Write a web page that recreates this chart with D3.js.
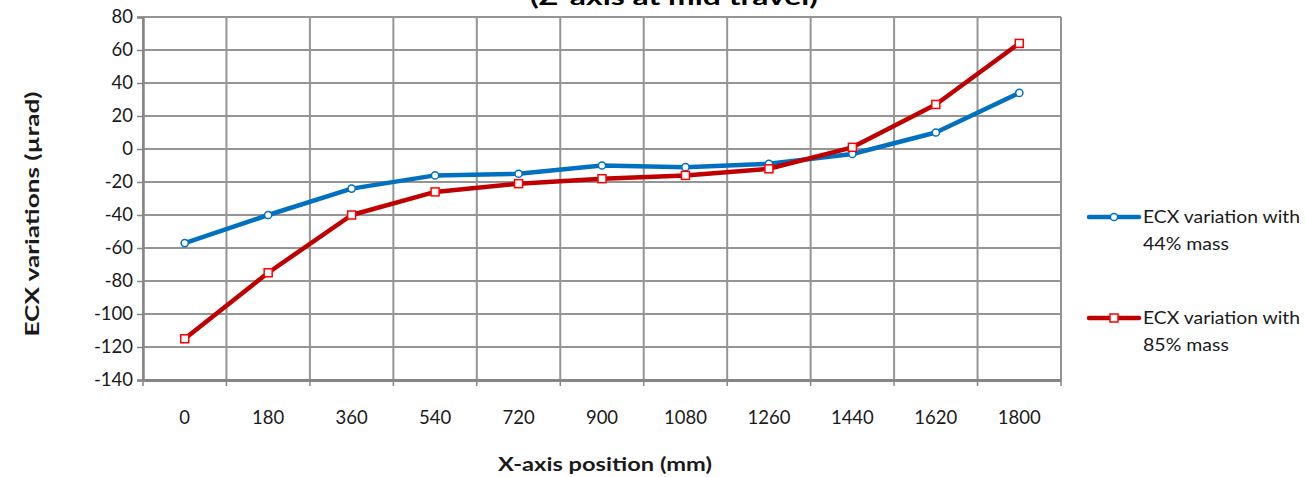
<!DOCTYPE html>
<html>
<head>
<meta charset="utf-8">
<script src="https://cdn.jsdelivr.net/npm/d3@7"></script>
<style>
  body { margin: 0; background: #fff; }
  svg { display: block; font-family: Lato, "Open Sans", sans-serif; }
</style>
</head>
<body>
<svg id="chart" width="1305" height="477"></svg>
<script>
// Chart data.
const positions = ['0', '180', '360', '540', '720', '900', '1080', '1260', '1440', '1620', '1800'];
const mass44 = [-57, -40, -24, -16, -15, -10, -11, -9, -3, 10, 34];
const mass85 = [-115, -75, -40, -26, -21, -18, -16, -12, 1, 27, 64];
const yTicks = [80, 60, 40, 20, 0, -20, -40, -60, -80, -100, -120, -140];
const seriesNames = ['ECX variation with|44% mass', 'ECX variation with|85% mass'];

const svg = d3.select('#chart');
const plotLeft = 143, plotRight = 1061, plotTop = 17, plotBottom = 380;

// Scales: band for categories, linear for the values.
let xScale = d3.scaleBand()
    .domain(positions)
    .range([plotLeft, plotRight]);

let yScale = d3.scaleLinear()
    .domain([-140, 80])
    .range([plotBottom, plotTop]);

// Title, only the bottom of its second line is visible in the frame.
svg.append('text')
    .attr('x', 674)
    .attr('y', 5)
    .attr('text-anchor', 'middle')
    .attr('font-size', 23)
    .attr('font-weight', 'bold')
    .attr('textLength', 288)
    .attr('lengthAdjust', 'spacingAndGlyphs')
    .text('(Z-axis at mid travel)');

// Gridlines.
let gGrid = svg.append('g').attr('id', 'g-grid');
gGrid.selectAll('line.h')
    .data(yTicks)
    .join('line')
    .attr('class', 'h')
    .attr('x1', plotLeft).attr('x2', plotRight)
    .attr('y1', d => yScale(d)).attr('y2', d => yScale(d))
    .attr('stroke', '#959595')
    .attr('stroke-width', 2);

let bounds = positions.map(p => xScale(p)).concat([plotRight]);
gGrid.selectAll('line.v')
    .data(bounds)
    .join('line')
    .attr('class', 'v')
    .attr('x1', d => d).attr('x2', d => d)
    .attr('y1', plotTop).attr('y2', plotBottom)
    .attr('stroke', '#959595')
    .attr('stroke-width', 2);

// Y axis, plain hyphen for negatives like the original.
let yAxis = d3.axisLeft(yScale)
    .tickValues(yTicks)
    .tickFormat(d => String(d))
    .tickSize(6)
    .tickPadding(4);
let gY = svg.append('g')
    .attr('transform', 'translate(' + plotLeft + ',0)')
    .call(yAxis);
gY.select('.domain').attr('stroke', '#868686').attr('stroke-width', 2.5);
gY.selectAll('.tick line').attr('stroke', '#868686').attr('stroke-width', 1.5);
gY.selectAll('.tick text')
    .attr('font-size', 18.5)
    .attr('font-family', 'Lato, sans-serif')
    .attr('fill', '#1a1a1a');

// X axis, ticks at category boundaries like Excel.
let xAxis = d3.axisBottom(xScale)
    .tickSize(0)
    .tickPadding(31);
let gX = svg.append('g')
    .attr('transform', 'translate(0,' + plotBottom + ')')
    .call(xAxis);
gX.select('.domain').attr('stroke', '#868686').attr('stroke-width', 3);
gX.selectAll('.tick text')
    .attr('font-size', 18.5)
    .attr('font-family', 'Lato, sans-serif')
    .attr('fill', '#1a1a1a');
gX.selectAll('line.bt')
    .data(bounds)
    .join('line')
    .attr('class', 'bt')
    .attr('x1', d => d).attr('x2', d => d)
    .attr('y1', 0).attr('y2', 6)
    .attr('stroke', '#868686')
    .attr('stroke-width', 1.5);

// Axis titles.
svg.append('text')
    .attr('transform', 'translate(39,214) rotate(-90)')
    .attr('text-anchor', 'middle')
    .attr('font-size', 19)
    .attr('font-weight', 'bold')
    .attr('fill', '#1a1a1a')
    .attr('textLength', 245)
    .attr('lengthAdjust', 'spacingAndGlyphs')
    .text('ECX variations (µrad)');

svg.append('text')
    .attr('x', 605)
    .attr('y', 471)
    .attr('text-anchor', 'middle')
    .attr('font-size', 18)
    .attr('font-weight', 'bold')
    .attr('fill', '#1a1a1a')
    .attr('textLength', 214)
    .attr('lengthAdjust', 'spacingAndGlyphs')
    .text('X-axis position (mm)');

// Lines and markers.
let cx = p => xScale(p) + xScale.bandwidth() / 2;
let line = d3.line()
    .x((d, i) => cx(positions[i]))
    .y(d => yScale(d));

let gLines = svg.append('g').attr('id', 'g-lines');

gLines.append('path')
    .datum(mass44)
    .attr('d', line)
    .attr('fill', 'none')
    .attr('stroke', '#0070C0')
    .attr('stroke-width', 4.5)
    .attr('stroke-linejoin', 'round');

gLines.append('path')
    .datum(mass85)
    .attr('d', line)
    .attr('fill', 'none')
    .attr('stroke', '#C00000')
    .attr('stroke-width', 4.5)
    .attr('stroke-linejoin', 'round');

gLines.selectAll('circle')
    .data(mass44)
    .join('circle')
    .attr('cx', (d, i) => cx(positions[i]))
    .attr('cy', d => yScale(d))
    .attr('r', 3.6)
    .attr('fill', '#fff')
    .attr('stroke', '#0070C0')
    .attr('stroke-width', 1.5);

gLines.selectAll('rect')
    .data(mass85)
    .join('rect')
    .attr('x', (d, i) => cx(positions[i]) - 4)
    .attr('y', d => yScale(d) - 4)
    .attr('width', 8)
    .attr('height', 8)
    .attr('fill', '#fff')
    .attr('stroke', '#FF0000')
    .attr('stroke-width', 1.5);

// Legend.
let legend = svg.append('g').attr('id', 'g-legend');
let legendY = [217, 318];
let colors = ['#0070C0', '#C00000'];

seriesNames.forEach(function(name, i) {
    let y = legendY[i];
    legend.append('line')
        .attr('x1', 1089).attr('x2', 1139)
        .attr('y1', y).attr('y2', y)
        .attr('stroke', colors[i])
        .attr('stroke-width', 4.5)
        .attr('stroke-linecap', 'round');
    if (i === 0) {
        legend.append('circle')
            .attr('cx', 1114).attr('cy', y).attr('r', 3.6)
            .attr('fill', '#fff').attr('stroke', '#0070C0').attr('stroke-width', 1.5);
    } else {
        legend.append('rect')
            .attr('x', 1110).attr('y', y - 4).attr('width', 8).attr('height', 8)
            .attr('fill', '#fff').attr('stroke', '#FF0000').attr('stroke-width', 1.5);
    }
    let parts = name.split('|');
    legend.append('text')
        .attr('x', 1143).attr('y', y + 6)
        .attr('font-size', 17)
        .attr('fill', '#1a1a1a')
        .attr('textLength', 157)
        .attr('lengthAdjust', 'spacingAndGlyphs')
        .text(parts[0]);
    legend.append('text')
        .attr('x', 1143).attr('y', y + 33)
        .attr('font-size', 17)
        .attr('fill', '#1a1a1a')
        .attr('textLength', 86)
        .attr('lengthAdjust', 'spacingAndGlyphs')
        .text(parts[1]);
});
</script>
</body>
</html>
